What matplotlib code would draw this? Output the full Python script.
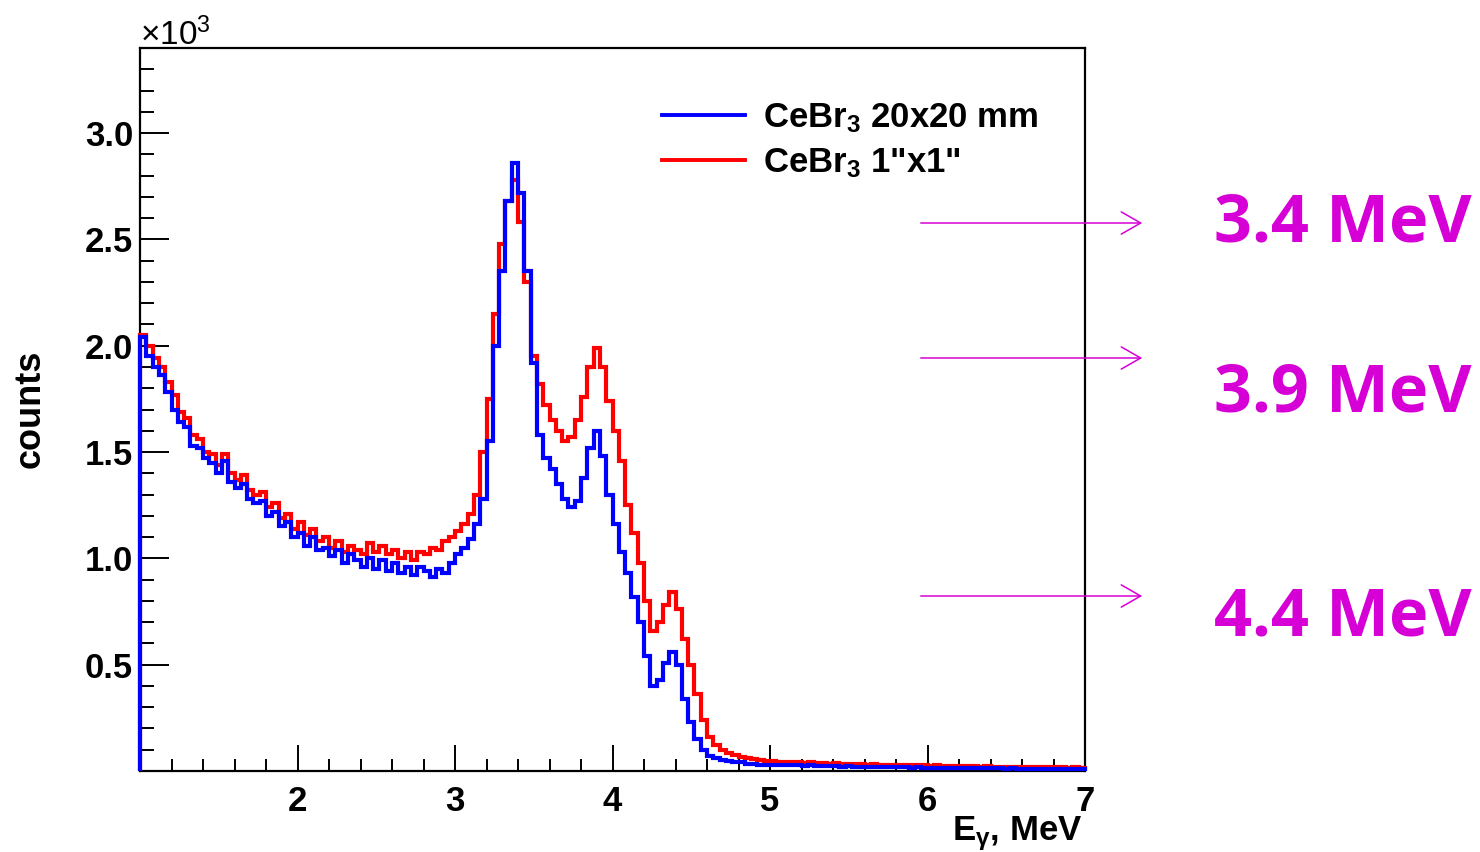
import numpy as np
import matplotlib
matplotlib.use("Agg")
import matplotlib.pyplot as plt
from matplotlib.lines import Line2D
from matplotlib.patches import FancyArrowPatch
from matplotlib.ticker import MultipleLocator

plt.rcParams['font.family'] = ['Liberation Sans', 'DejaVu Sans']
plt.rcParams['mathtext.fontset'] = 'custom'
plt.rcParams['mathtext.rm'] = 'Liberation Sans:bold'
plt.rcParams['mathtext.it'] = 'Liberation Sans:bold'
plt.rcParams['mathtext.bf'] = 'Liberation Sans:bold'

# energy range of the histograms (MeV), 0.04 MeV bins
e_min, e_max = 1.0, 7.0

# counts in units of 10^3, bins 1.00-5.00 MeV (10 bins per row)
blue_main = [
    2.04, 1.95, 1.90, 1.86, 1.78, 1.70, 1.64, 1.62, 1.53, 1.52,
    1.47, 1.45, 1.40, 1.46, 1.36, 1.33, 1.35, 1.28, 1.26, 1.27,
    1.20, 1.22, 1.15, 1.17, 1.10, 1.12, 1.06, 1.10, 1.04, 1.05,
    1.01, 1.04, 0.98, 1.02, 0.99, 0.96, 1.00, 0.95, 0.99, 0.94,
    0.98, 0.93, 0.96, 0.92, 0.96, 0.94, 0.91, 0.95, 0.93, 0.98,
    1.02, 1.05, 1.09, 1.16, 1.28, 1.55, 2.00, 2.35, 2.68, 2.86,
    2.72, 2.35, 1.92, 1.58, 1.47, 1.42, 1.35, 1.28, 1.24, 1.27,
    1.38, 1.52, 1.60, 1.48, 1.30, 1.16, 1.03, 0.93, 0.82, 0.70,
    0.54, 0.40, 0.43, 0.51, 0.56, 0.50, 0.34, 0.23, 0.15, 0.10,
    0.07, 0.06, 0.05, 0.045, 0.04, 0.04, 0.035, 0.035, 0.03, 0.03,
]
# bins 5.00-7.00 MeV
blue_tail = [
    0.030, 0.028, 0.030, 0.026, 0.027, 0.025, 0.026, 0.023, 0.025, 0.022,
    0.023, 0.021, 0.022, 0.020, 0.021, 0.019, 0.020, 0.018, 0.019, 0.017,
    0.018, 0.017, 0.016, 0.017, 0.015, 0.016, 0.015, 0.014, 0.015, 0.014,
    0.013, 0.014, 0.013, 0.012, 0.013, 0.012, 0.012, 0.011, 0.012, 0.011,
    0.011, 0.010, 0.011, 0.010, 0.010, 0.010, 0.009, 0.010, 0.009, 0.009,
]

red_main = [
    2.05, 2.00, 1.94, 1.90, 1.83, 1.77, 1.69, 1.66, 1.58, 1.56,
    1.50, 1.49, 1.44, 1.49, 1.40, 1.37, 1.39, 1.32, 1.30, 1.31,
    1.24, 1.26, 1.19, 1.21, 1.14, 1.17, 1.11, 1.14, 1.08, 1.10,
    1.05, 1.08, 1.03, 1.06, 1.04, 1.02, 1.07, 1.03, 1.06, 1.02,
    1.04, 1.00, 1.03, 0.99, 1.03, 1.02, 1.05, 1.04, 1.08, 1.10,
    1.13, 1.16, 1.21, 1.30, 1.50, 1.75, 2.15, 2.48, 2.68, 2.78,
    2.58, 2.30, 1.95, 1.82, 1.72, 1.65, 1.60, 1.55, 1.57, 1.65,
    1.76, 1.90, 1.99, 1.90, 1.74, 1.60, 1.46, 1.25, 1.12, 0.98,
    0.80, 0.66, 0.70, 0.78, 0.84, 0.76, 0.62, 0.50, 0.36, 0.24,
    0.16, 0.12, 0.10, 0.085, 0.075, 0.065, 0.06, 0.055, 0.05, 0.048,
]
red_tail = [
    0.045, 0.042, 0.044, 0.040, 0.041, 0.038, 0.040, 0.036, 0.037, 0.035,
    0.036, 0.033, 0.034, 0.032, 0.033, 0.030, 0.031, 0.029, 0.030, 0.028,
    0.029, 0.027, 0.028, 0.026, 0.027, 0.025, 0.026, 0.024, 0.025, 0.023,
    0.024, 0.022, 0.023, 0.021, 0.022, 0.021, 0.020, 0.021, 0.019, 0.020,
    0.019, 0.018, 0.019, 0.018, 0.017, 0.018, 0.017, 0.016, 0.017, 0.016,
]

labels = ["CeBr$_3$ 20x20 mm", 'CeBr$_3$ 1"x1"']
peak_labels = ["3.4 MeV", "3.9 MeV", "4.4 MeV"]

blue = np.array(blue_main + blue_tail)
red = np.array(red_main + red_tail)
edges = np.linspace(e_min, e_max, len(blue) + 1)

fig = plt.figure(figsize=(14.8, 8.52), dpi=100)
ax = fig.add_axes([140 / 1480, 81 / 852, 945 / 1480, 723 / 852])

ax.stairs(red, edges, baseline=0, color='#ff0000', lw=3.0, clip_on=False, zorder=3)
ax.stairs(blue, edges, baseline=0, color='#0000ff', lw=3.0, clip_on=False, zorder=3)

ax.set_xlim(e_min, e_max)
ax.set_ylim(0, 3.4)

ax.set_xticks([2, 3, 4, 5, 6, 7])
ax.xaxis.set_minor_locator(MultipleLocator(0.2))
ax.set_yticks([0.5, 1.0, 1.5, 2.0, 2.5, 3.0])
ax.set_yticklabels(["0.5", "1.0", "1.5", "2.0", "2.5", "3.0"])
ax.yaxis.set_minor_locator(MultipleLocator(0.1))

ax.tick_params(axis='both', which='both', direction='in', top=False, right=False,
               width=1.4, labelsize=25)
ax.tick_params(axis='x', which='major', length=19, pad=10)
ax.tick_params(axis='x', which='minor', length=9)
ax.tick_params(axis='y', which='major', length=21, pad=5)
ax.tick_params(axis='y', which='minor', length=10)
for lab in ax.get_xticklabels() + ax.get_yticklabels():
    lab.set_fontweight('bold')
for sp in ax.spines.values():
    sp.set_linewidth(1.6)

ax.text(0, 1.004, r"$\mathregular{\times10^{3}}$", transform=ax.transAxes,
        ha='left', va='baseline', fontsize=24)
fig.text(30 / 1480, 1 - 409 / 852, "counts", rotation=90, ha='center', va='center',
         fontsize=26, fontweight='bold')
fig.text(1083 / 1480, 1 - 840 / 852, r"E$_{\gamma}$, MeV", ha='right', va='baseline',
         fontsize=25, fontweight='bold')

handles = [Line2D([], [], color='#0000ff', lw=2.8), Line2D([], [], color='#ff0000', lw=2.8)]
fig.legend(handles, labels, loc='upper left', bbox_to_anchor=(662 / 1480, 1 - 101 / 852),
           frameon=False, prop={'weight': 'bold', 'size': 25},
           handlelength=2.4, handletextpad=0.5, labelspacing=0.32,
           borderpad=0, borderaxespad=0)

magenta = '#d600d6'
arrow_y = [223, 358, 596]
text_base = [242, 412, 635]
for name, ya, yt in zip(peak_labels, arrow_y, text_base):
    fig.add_artist(FancyArrowPatch(
        (918 / 1480, 1 - ya / 852), (1145 / 1480, 1 - ya / 852),
        transform=fig.transFigure, arrowstyle='->,head_length=0.7,head_width=0.4',
        mutation_scale=20, color=magenta, lw=1.1))
    fig.text(1214 / 1480, 1 - yt / 852, name, ha='left', va='baseline',
             fontsize=48, fontweight='bold', color=magenta,
             family=['Open Sans', 'DejaVu Sans'])

fig.savefig("out.png", dpi=100)
